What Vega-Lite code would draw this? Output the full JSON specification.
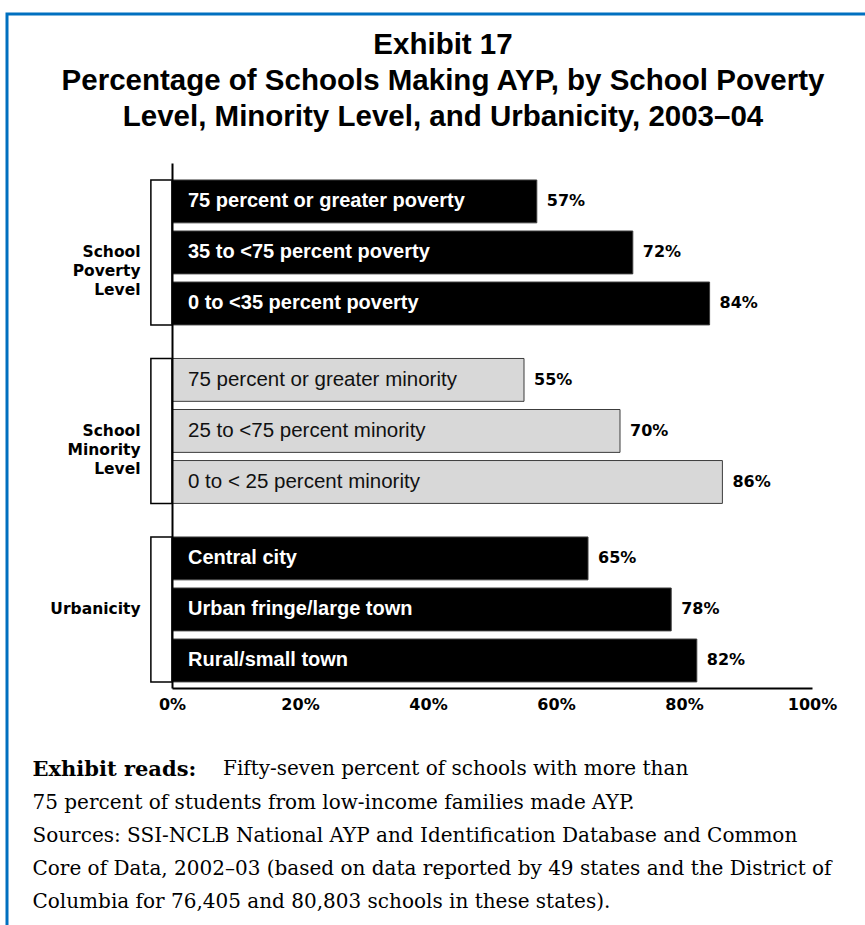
{
  "$schema": "https://vega.github.io/schema/vega-lite/v6.json",
  "width": 858,
  "height": 911,
  "autosize": {"type": "none"},
  "padding": {"left": 7, "top": 14, "right": 0, "bottom": 0},
  "background": "white",
  "config": {
    "view": {"stroke": "#0070c0", "strokeWidth": 3, "strokeDash": [858, 1769, 911, 50], "strokeCap": "square"}
  },
  "title": {
    "text": ["Exhibit 17", "Percentage of Schools Making AYP, by School Poverty", "Level, Minority Level, and Urbanicity, 2003–04"],
    "anchor": "middle",
    "frame": "group",
    "font": "Liberation Sans",
    "fontSize": 29.5,
    "fontWeight": "bold",
    "lineHeight": 36,
    "color": "#000000",
    "offset": -118,
    "dx": 7
  },
  "data": {
    "values": [
      {"group": "School Poverty Level", "label": "75 percent or greater poverty", "pct": 57},
      {"group": "School Poverty Level", "label": "35  to <75 percent poverty", "pct": 72},
      {"group": "School Poverty Level", "label": "0 to <35 percent poverty", "pct": 84},
      {"group": "School Minority Level", "label": "75 percent or greater minority", "pct": 55},
      {"group": "School Minority Level", "label": "25 to <75 percent minority", "pct": 70},
      {"group": "School Minority Level", "label": "0 to < 25 percent minority", "pct": 86},
      {"group": "Urbanicity", "label": "Central city", "pct": 65},
      {"group": "Urbanicity", "label": "Urban fringe/large town", "pct": 78},
      {"group": "Urbanicity", "label": "Rural/small town", "pct": 82}
    ]
  },
  "transform": [
    {"window": [{"op": "row_number", "as": "rank"}], "groupby": ["group"]},
    {"calculate": "datum.pct + '%'", "as": "pctLabel"}
  ],
  "encoding": {
    "y": {
      "field": "group",
      "type": "nominal",
      "sort": null,
      "scale": {"range": [149, 674], "paddingInner": 0.188, "paddingOuter": 0.0646, "align": 0.736},
      "axis": {
        "offset": -165,
        "domain": true,
        "domainColor": "#000000",
        "domainWidth": 2,
        "ticks": false,
        "grid": false,
        "labelPadding": 32,
        "labelExpr": "split(datum.label, ' ')",
        "labelFont": "DejaVu Sans",
        "labelFontSize": 15.5,
        "labelFontWeight": "bold",
        "labelColor": "#000000",
        "labelLineHeight": 19,
        "labelAlign": "right",
        "labelBaseline": "middle",
        "title": "Exhibit reads:",
        "titleAngle": 0,
        "titleX": -140,
        "titleY": 761,
        "titleAlign": "left",
        "titleBaseline": "alphabetic",
        "titleFont": "DejaVu Serif",
        "titleFontSize": 21,
        "titleFontWeight": "bold",
        "titleColor": "#000000",
        "titleLimit": 1000
      }
    }
  },
  "layer": [
    {
      "transform": [{"aggregate": [{"op": "count", "as": "n"}], "groupby": ["group"]}],
      "mark": {"type": "rect", "fill": "transparent", "stroke": "#000000", "strokeWidth": 1.5},
      "encoding": {
        "x": {"datum": -3.3},
        "x2": {"datum": 0}
      }
    },
    {
      "mark": {"type": "bar", "stroke": "#3c3c3c", "strokeWidth": 1},
      "encoding": {
        "yOffset": {"field": "rank", "type": "ordinal", "scale": {"paddingInner": 0.16, "paddingOuter": 0}},
        "x": {
          "field": "pct",
          "type": "quantitative",
          "scale": {"domain": [0, 100], "range": [165, 805], "nice": false},
          "axis": {
            "orient": "bottom",
            "offset": -237,
            "values": [0, 20, 40, 60, 80, 100],
            "labelExpr": "datum.value + '%'",
            "labelFont": "DejaVu Sans",
            "labelFontSize": 16,
            "labelFontWeight": "bold",
            "labelColor": "#000000",
            "labelPadding": 8,
            "labelFlush": false,
            "labelOverlap": false,
            "ticks": false,
            "grid": false,
            "domain": true,
            "domainColor": "#000000",
            "domainWidth": 2,
            "title": [
              "75 percent of students from low-income families made AYP.",
              "Sources:  SSI-NCLB National AYP and Identification Database and Common",
              "Core of Data, 2002–03 (based on data reported by 49 states and the District of",
              "Columbia for 76,405 and 80,803 schools in these states)."
            ],
            "titleX": 25,
            "titleY": 120,
            "titleAlign": "left",
            "titleBaseline": "alphabetic",
            "titleFont": "DejaVu Serif",
            "titleFontSize": 20,
            "titleFontWeight": "normal",
            "titleLineHeight": 33,
            "titleColor": "#000000",
            "titleLimit": 1000
          }
        },
        "color": {
          "field": "group",
          "type": "nominal",
          "scale": {"domain": ["School Poverty Level", "School Minority Level", "Urbanicity"], "range": ["#000000", "#d8d8d8", "#000000"]},
          "legend": {
            "title": "Fifty-seven percent of schools with more than",
            "orient": "none",
            "legendX": 216,
            "legendY": 761,
            "titleFont": "DejaVu Serif",
            "titleFontSize": 20,
            "titleFontWeight": "normal",
            "titleColor": "#000000",
            "titleBaseline": "alphabetic",
            "titleLimit": 1000,
            "direction": "horizontal",
            "symbolOpacity": 0,
            "symbolSize": 0,
            "symbolStrokeWidth": 0,
            "labelExpr": "''",
            "labelOpacity": 0
          }
        }
      }
    },
    {
      "transform": [{"filter": "datum.group != 'School Minority Level'"}],
      "mark": {"type": "text", "align": "left", "baseline": "middle", "dx": 16, "font": "Liberation Sans", "fontSize": 20, "fontWeight": "bold", "fill": "#ffffff"},
      "encoding": {
        "yOffset": {"field": "rank", "type": "ordinal"},
        "x": {"datum": 0},
        "text": {"field": "label"}
      }
    },
    {
      "transform": [{"filter": "datum.group == 'School Minority Level'"}],
      "mark": {"type": "text", "align": "left", "baseline": "middle", "dx": 16, "font": "Liberation Sans", "fontSize": 20.5, "fontWeight": "normal", "fill": "#111111"},
      "encoding": {
        "yOffset": {"field": "rank", "type": "ordinal"},
        "x": {"datum": 0},
        "text": {"field": "label"}
      }
    },
    {
      "mark": {"type": "text", "align": "left", "baseline": "middle", "dx": 10, "font": "DejaVu Sans", "fontSize": 16, "fontWeight": "bold", "fill": "#000000"},
      "encoding": {
        "yOffset": {"field": "rank", "type": "ordinal"},
        "x": {"field": "pct", "type": "quantitative"},
        "text": {"field": "pctLabel"}
      }
    }
  ]
}
